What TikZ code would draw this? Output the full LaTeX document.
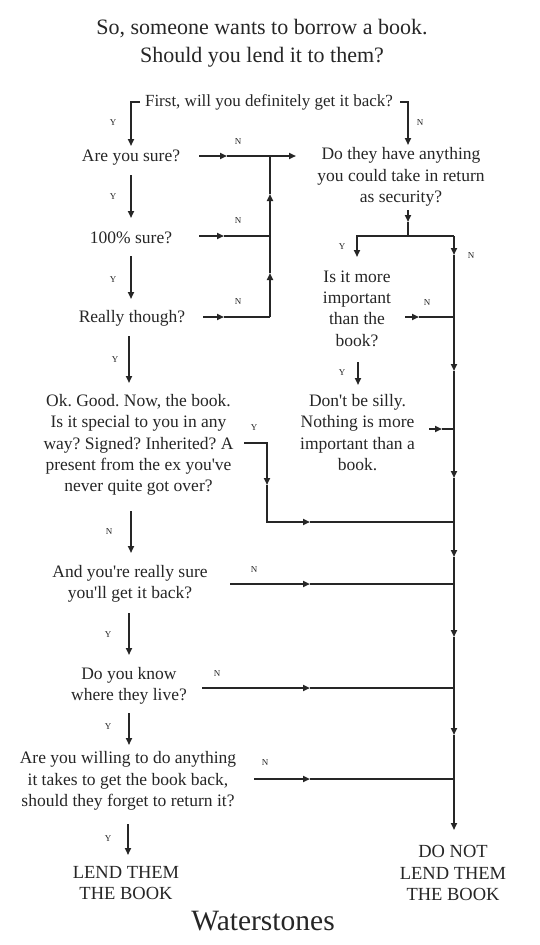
\documentclass[tikz,border=0pt]{standalone}
\usepackage{fontspec}
\newfontfamily\gara{Liberation Serif}
\usetikzlibrary{arrows.meta}
\begin{document}
\begin{tikzpicture}[x=1pt,y=-1pt,
  every node/.style={text=black!85},
  txt/.style={font=\gara\fontsize{17.5}{21.3}\selectfont\frenchspacing, align=center, inner sep=0pt},
  ttl/.style={font=\gara\fontsize{22}{28.5}\selectfont, align=center, inner sep=0pt},
  lbl/.style={font=\gara\fontsize{9}{10}\selectfont, inner sep=0pt},
  brand/.style={font=\gara\fontsize{29.5}{32}\selectfont, inner sep=0pt},
  wire/.style={draw=black!85, line width=1.7pt},
  arr/.style={wire, -{Triangle[length=7pt,width=6pt]}}]
\useasboundingbox (0,0) rectangle (540,945);

% ---- texts
\node[ttl] (title) at (262,43) {So, someone wants to borrow a book.\\Should you lend it to them?};
\node[txt, font=\gara\fontsize{17}{21}\selectfont] (q0) at (269,102) {First, will you definitely get it back?};
\node[txt] (q1) at (131,158) {Are you sure?};
\node[txt] (q2) at (131,238) {100\% sure?};
\node[txt] (q3) at (132,318) {Really though?};
\node[txt] (q4) at (138.5,445) {Ok. Good. Now, the book.\\Is it special to you in any\\way? Signed? Inherited? A\\present from the ex you've\\never quite got over?};
\node[txt] (q5) at (130,584) {And you're really sure\\you'll get it back?};
\node[txt] (q6) at (129,686) {Do you know\\where they live?};
\node[txt] (q7) at (128,781) {Are you willing to do anything\\it takes to get the book back,\\should they forget to return it?};
\node[txt, font=\gara\fontsize{18.5}{21.3}\selectfont] (yes) at (126,883) {LEND THEM\\THE BOOK};
\node[txt] (q8) at (401,177) {Do they have anything\\you could take in return\\as security?};
\node[txt] (q9) at (357,308.5) {Is it more\\important\\than the\\book?};
\node[txt] (q10) at (357.5,432.5) {Don't be silly.\\Nothing is more\\important than a\\book.};
\node[txt, font=\gara\fontsize{18.5}{21.3}\selectfont] (no) at (453,873) {DO NOT\\LEND THEM\\THE BOOK};
\node[brand] (logo) at (263,921) {Waterstones};

% ---- labels
\node[lbl] (l0y) at (113,123) {Y};
\node[lbl] (l0n) at (420,123) {N};
\node[lbl] (l1y) at (113,197) {Y};
\node[lbl] (l2y) at (113,280) {Y};
\node[lbl] (l3y) at (115,360) {Y};
\node[lbl] (l4n) at (109,532) {N};
\node[lbl] (l5y) at (108,635) {Y};
\node[lbl] (l6y) at (108,727) {Y};
\node[lbl] (l7y) at (108,839) {Y};
\node[lbl] (l1n) at (238,142) {N};
\node[lbl] (l2n) at (238,221) {N};
\node[lbl] (l3n) at (238,302) {N};
\node[lbl] (l4y) at (254,428) {Y};
\node[lbl] (l5n) at (254,570) {N};
\node[lbl] (l6n) at (217,674) {N};
\node[lbl] (l7n) at (265,763) {N};
\node[lbl] (l8y) at (342,247) {Y};
\node[lbl] (l8n) at (471,256) {N};
\node[lbl] (l9n) at (427,303) {N};
\node[lbl] (l9y) at (342,373) {Y};

% ---- coordinates
\coordinate (a0) at (140,102); \coordinate (a1) at (131,102); \coordinate (a2) at (131,146);
\coordinate (b0) at (400,102); \coordinate (b1) at (408,102); \coordinate (b2) at (408,145);
\coordinate (c1s) at (131,175); \coordinate (c1e) at (131,218);
\coordinate (c2s) at (131,256); \coordinate (c2e) at (131,299);
\coordinate (c3s) at (129,336); \coordinate (c3e) at (129,383);
\coordinate (c4s) at (131,511); \coordinate (c4e) at (131,553);
\coordinate (c5s) at (129,613); \coordinate (c5e) at (129,655);
\coordinate (c6s) at (129,713); \coordinate (c6e) at (129,745);
\coordinate (c7s) at (128,824); \coordinate (c7e) at (128,855);
% left collector
\coordinate (n1s) at (199,156); \coordinate (n1m) at (227,156); \coordinate (n1j) at (270,156); \coordinate (n1e) at (296,156);
\coordinate (n2s) at (199,236); \coordinate (n2m) at (224,236); \coordinate (n2j) at (270,236);
\coordinate (n3s) at (203,317); \coordinate (n3m) at (224,317); \coordinate (n3j) at (270,317);
\coordinate (v1) at (270,273); \coordinate (v2) at (270,194);
% security split
\coordinate (s0) at (408,210); \coordinate (s1) at (408,222); \coordinate (s2) at (408,236);
\coordinate (sl) at (357,236); \coordinate (sle) at (357,257);
\coordinate (sr) at (454,236);
\coordinate (t0) at (405,317); \coordinate (t1) at (419,317); \coordinate (t2) at (454,317);
\coordinate (u0) at (358,362); \coordinate (u1) at (358,385);
\coordinate (w0) at (429,429); \coordinate (w1) at (442,429); \coordinate (w2) at (454,429);
% Y branch from q4
\coordinate (y0) at (244,443); \coordinate (y1) at (267,443); \coordinate (y2) at (267,485);
\coordinate (y3) at (267,522); \coordinate (y4) at (310,522); \coordinate (y5) at (454,522);
% N branches to main line
\coordinate (p5s) at (230,584); \coordinate (p5m) at (310,584); \coordinate (p5e) at (454,584);
\coordinate (p6s) at (202,688); \coordinate (p6m) at (310,688); \coordinate (p6e) at (454,688);
\coordinate (p7s) at (254,779); \coordinate (p7m) at (310,779); \coordinate (p7e) at (454,779);
% main line arrowheads
\coordinate (m1) at (454,255); \coordinate (m2) at (454,371); \coordinate (m3) at (454,478);
\coordinate (m4) at (454,557); \coordinate (m5) at (454,637); \coordinate (m6) at (454,735);
\coordinate (m7) at (454,830);

% ---- connectors
\draw[arr] (a0) -- (a1) -- (a2);
\draw[arr] (b0) -- (b1) -- (b2);
\draw[arr] (c1s) -- (c1e);
\draw[arr] (c2s) -- (c2e);
\draw[arr] (c3s) -- (c3e);
\draw[arr] (c4s) -- (c4e);
\draw[arr] (c5s) -- (c5e);
\draw[arr] (c6s) -- (c6e);
\draw[arr] (c7s) -- (c7e);

\draw[arr] (n1s) -- (n1m); \draw[arr] (n1m) -- (n1e);
\draw[arr] (n2s) -- (n2m); \draw[wire] (n2m) -- (n2j);
\draw[arr] (n3s) -- (n3m); \draw[wire] (n3m) -- (n3j);
\draw[arr] (n3j) -- (v1); \draw[wire] (v1) -- (n2j);
\draw[arr] (n2j) -- (v2); \draw[wire] (v2) -- (n1j);

\draw[arr] (s0) -- (s1); \draw[wire] (s1) -- (s2);
\draw[arr] (sr) -- (sl) -- (sle);
\draw[arr] (t0) -- (t1); \draw[wire] (t1) -- (t2);
\draw[arr] (u0) -- (u1);
\draw[arr] (w0) -- (w1); \draw[wire] (w1) -- (w2);

\draw[arr] (y0) -- (y1) -- (y2); \draw[arr] (y2) -- (y3) -- (y4); \draw[wire] (y4) -- (y5);
\draw[arr] (p5s) -- (p5m); \draw[wire] (p5m) -- (p5e);
\draw[arr] (p6s) -- (p6m); \draw[wire] (p6m) -- (p6e);
\draw[arr] (p7s) -- (p7m); \draw[wire] (p7m) -- (p7e);

\draw[arr] (sr) -- (m1); \draw[arr] (m1) -- (m2); \draw[arr] (m2) -- (m3);
\draw[arr] (m3) -- (m4); \draw[arr] (m4) -- (m5); \draw[arr] (m5) -- (m6);
\draw[arr] (m6) -- (m7);
\end{tikzpicture}
\end{document}
